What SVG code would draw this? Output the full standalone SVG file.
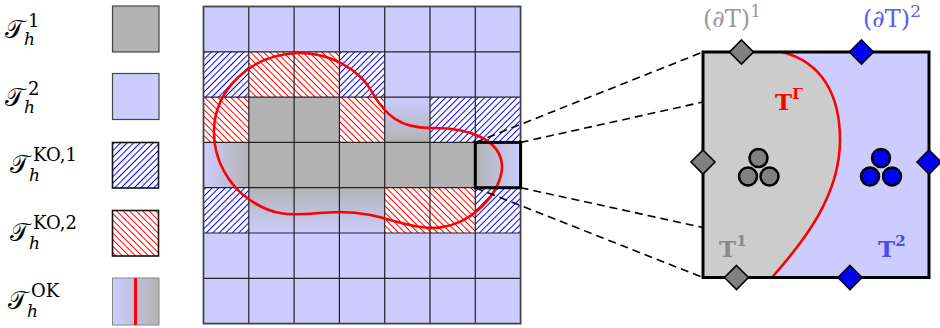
<svg xmlns="http://www.w3.org/2000/svg" width="940" height="328" viewBox="0 0 940 328">
<style>
.lbl{font-family:"DejaVu Serif","Liberation Serif",serif;fill:#000;font-size:25px}
.sub{font-size:17px;font-style:italic}
.sup{font-size:18px}
.gl{stroke:#222;stroke-width:1.2;fill:none}
.gray{fill:#b3b3b3}
.blue{fill:#ccccff}
.dash{stroke:#000;stroke-width:1.6;stroke-dasharray:8 5;fill:none}
.gd{fill:#808080;stroke:#000;stroke-width:1.6}
.bd{fill:#0000ff;stroke:#000;stroke-width:1.6}
.gc{fill:#808080;stroke:#000;stroke-width:2.5}
.bc{fill:#0000ff;stroke:#000;stroke-width:2.5}
.bt{font-family:"DejaVu Serif","Liberation Serif",serif;font-weight:bold}
.rt{font-family:"DejaVu Serif","Liberation Serif",serif}
</style>
<defs>
<pattern id="hb" width="4.6" height="10" patternUnits="userSpaceOnUse" patternTransform="rotate(45)">
<rect width="4.6" height="10" fill="#fff"/>
<line x1="2.3" y1="0" x2="2.3" y2="10" stroke="#0000ff" stroke-width="1"/>
</pattern>
<pattern id="hr" width="4.6" height="10" patternUnits="userSpaceOnUse" patternTransform="rotate(-45)">
<rect width="4.6" height="10" fill="#fff"/>
<line x1="2.3" y1="0" x2="2.3" y2="10" stroke="#ff0000" stroke-width="1"/>
</pattern>
<linearGradient id="bgL" x1="0" y1="0" x2="1" y2="0"><stop offset="0" stop-color="#ccccff"/><stop offset="1" stop-color="#b3b3b3"/></linearGradient>
<linearGradient id="gbL" x1="0" y1="0" x2="1" y2="0"><stop offset="0" stop-color="#b3b3b3"/><stop offset="1" stop-color="#ccccff"/></linearGradient>
<linearGradient id="bgT" x1="0" y1="0" x2="0" y2="1"><stop offset="0" stop-color="#ccccff"/><stop offset="1" stop-color="#b3b3b3"/></linearGradient>
<linearGradient id="gbT" x1="0" y1="0" x2="0" y2="1"><stop offset="0" stop-color="#b3b3b3"/><stop offset="1" stop-color="#ccccff"/></linearGradient>
</defs>

<g id="legend">
<g id="leg1">
<text class="lbl" x="5" y="38">𝒯<tspan class="sub" x="24" y="45">h</tspan><tspan class="sup" x="28" y="27">1</tspan></text>
<rect x="112.5" y="6" width="46.5" height="46" fill="#b3b3b3" stroke="#444" stroke-width="1.2"/>
</g>
<g id="leg2">
<text class="lbl" x="5" y="106">𝒯<tspan class="sub" x="24" y="113">h</tspan><tspan class="sup" x="28" y="95">2</tspan></text>
<rect x="112.5" y="73.5" width="46.5" height="46" fill="#ccccff" stroke="#444" stroke-width="1.2"/>
</g>
<g id="leg3">
<text class="lbl" x="10" y="173">𝒯<tspan class="sub" x="29" y="181">h</tspan><tspan class="sup" x="33" y="161">KO,1</tspan></text>
<rect x="112.5" y="142.5" width="46" height="45.5" fill="url(#hb)" stroke="#111" stroke-width="1.6"/>
</g>
<g id="leg4">
<text class="lbl" x="10" y="241">𝒯<tspan class="sub" x="29" y="249">h</tspan><tspan class="sup" x="33" y="229">KO,2</tspan></text>
<rect x="112.5" y="210.5" width="46" height="45.5" fill="url(#hr)" stroke="#111" stroke-width="1.6"/>
</g>
<g id="leg5">
<text class="lbl" x="8" y="309">𝒯<tspan class="sub" x="27" y="317">h</tspan><tspan class="sup" x="31" y="297">OK</tspan></text>
<rect x="112.5" y="278" width="46.5" height="47" fill="url(#bgL)" stroke="#888" stroke-width="1"/>
<line x1="135.5" y1="278" x2="135.5" y2="325" stroke="#ff0000" stroke-width="3"/>
</g>
</g>

<g id="grid">
<rect x="203.5" y="6.5" width="317.1" height="317.1" class="blue"/>
<rect x="248.8" y="97.1" width="90.6" height="45.3" class="gray"/>
<rect x="248.8" y="142.4" width="226.5" height="45.3" class="gray"/>
<rect x="203.5" y="142.4" width="45.3" height="45.3" fill="url(#bgL)"/>
<rect x="384.7" y="97.1" width="45.3" height="45.3" fill="url(#bgT)"/>
<rect x="248.8" y="187.7" width="135.9" height="45.3" fill="url(#gbT)"/>
<rect x="475.3" y="142.4" width="45.3" height="45.3" fill="url(#gbL)"/>
<rect x="203.5" y="51.8" width="45.3" height="45.3" fill="url(#hb)"/>
<rect x="339.4" y="51.8" width="45.3" height="45.3" fill="url(#hb)"/>
<rect x="430.0" y="97.1" width="90.6" height="45.3" fill="url(#hb)"/>
<rect x="203.5" y="187.7" width="45.3" height="45.3" fill="url(#hb)"/>
<rect x="475.3" y="187.7" width="45.3" height="45.3" fill="url(#hb)"/>
<rect x="248.8" y="51.8" width="90.6" height="45.3" fill="url(#hr)"/>
<rect x="203.5" y="97.1" width="45.3" height="45.3" fill="url(#hr)"/>
<rect x="339.4" y="97.1" width="45.3" height="45.3" fill="url(#hr)"/>
<rect x="384.7" y="187.7" width="90.6" height="45.3" fill="url(#hr)"/>
<path class="gl" d="M248.8,6.5V323.6M294.1,6.5V323.6M339.4,6.5V323.6M384.7,6.5V323.6M430,6.5V323.6M475.3,6.5V323.6M203.5,51.8H520.6M203.5,97.1H520.6M203.5,142.4H520.6M203.5,187.7H520.6M203.5,233H520.6M203.5,278.3H520.6"/>
<rect x="203.5" y="6.5" width="317.1" height="317.1" fill="none" stroke="#444" stroke-width="1.8"/>
<path d="M297,53 C330,52 360,70 372,92 C385,115 400,128 430,128 C470,127 500,140 502,165 C503,192 470,229 430,228 C400,227 380,212 340,212 C300,213 280,221 250,200 C230,187 213,160 214,130 C215,90 250,55 297,53 Z" fill="none" stroke="#ff0000" stroke-width="2.6"/>
<rect x="475.3" y="142.4" width="45.3" height="45.3" fill="none" stroke="#000" stroke-width="3"/>
</g>

<g id="connectors">
<line class="dash" x1="475.3" y1="142.4" x2="703" y2="52"/>
<line class="dash" x1="520.6" y1="142.4" x2="703" y2="102"/>
<line class="dash" x1="475.3" y1="187.7" x2="703" y2="277.5"/>
<line class="dash" x1="520.6" y1="187.7" x2="703" y2="227.5"/>
</g>

<g id="zoomcell">
<rect x="703" y="52" width="226" height="225.5" fill="#ccccff"/>
<path d="M703,52 L782,52 C822,62 840,95 840,140 C840,195 805,240 772,277.5 L703,277.5 Z" fill="#cccccc"/>
<path d="M782,52 C822,62 840,95 840,140 C840,195 805,240 772,277.5" fill="none" stroke="#ff0000" stroke-width="2.6"/>
<rect x="703" y="52" width="226" height="225.5" fill="none" stroke="#000" stroke-width="3"/>
</g>

<g id="diamonds">
<polygon class="gd" points="741.5,40 753.5,52 741.5,64 729.5,52"/>
<polygon class="gd" points="703,150 715,162 703,174 691,162"/>
<polygon class="gd" points="736.5,265.5 748.5,277.5 736.5,289.5 724.5,277.5"/>
<polygon class="bd" points="861.5,40 873.5,52 861.5,64 849.5,52"/>
<polygon class="bd" points="929,150 941,162 929,174 917,162"/>
<polygon class="bd" points="850,265.5 862,277.5 850,289.5 838,277.5"/>
</g>

<g id="dofs1">
<circle class="gc" cx="758.5" cy="158" r="9"/>
<circle class="gc" cx="748" cy="176.5" r="9"/>
<circle class="gc" cx="769.5" cy="176.5" r="9"/>
</g>
<g id="dofs2">
<circle class="bc" cx="881" cy="158" r="9"/>
<circle class="bc" cx="870" cy="176.5" r="9"/>
<circle class="bc" cx="892" cy="176.5" r="9"/>
</g>

<g id="labels">
<text class="rt" x="703" y="27" font-size="24" fill="#999999">(∂T)<tspan font-size="17" dy="-10">1</tspan></text>
<text class="rt" x="863" y="27" font-size="24" fill="#5a5aff">(∂T)<tspan font-size="17" dy="-10">2</tspan></text>
<text class="bt" x="775" y="110" font-size="23" fill="#ff0000">T<tspan font-size="15" dy="-11">Γ</tspan></text>
<text class="bt" x="719" y="256.5" font-size="23" fill="#888888">T<tspan font-size="15" dy="-11">1</tspan></text>
<text class="bt" x="878" y="256.5" font-size="23" fill="#4a4aee">T<tspan font-size="15" dy="-11">2</tspan></text>
</g>
</svg>
